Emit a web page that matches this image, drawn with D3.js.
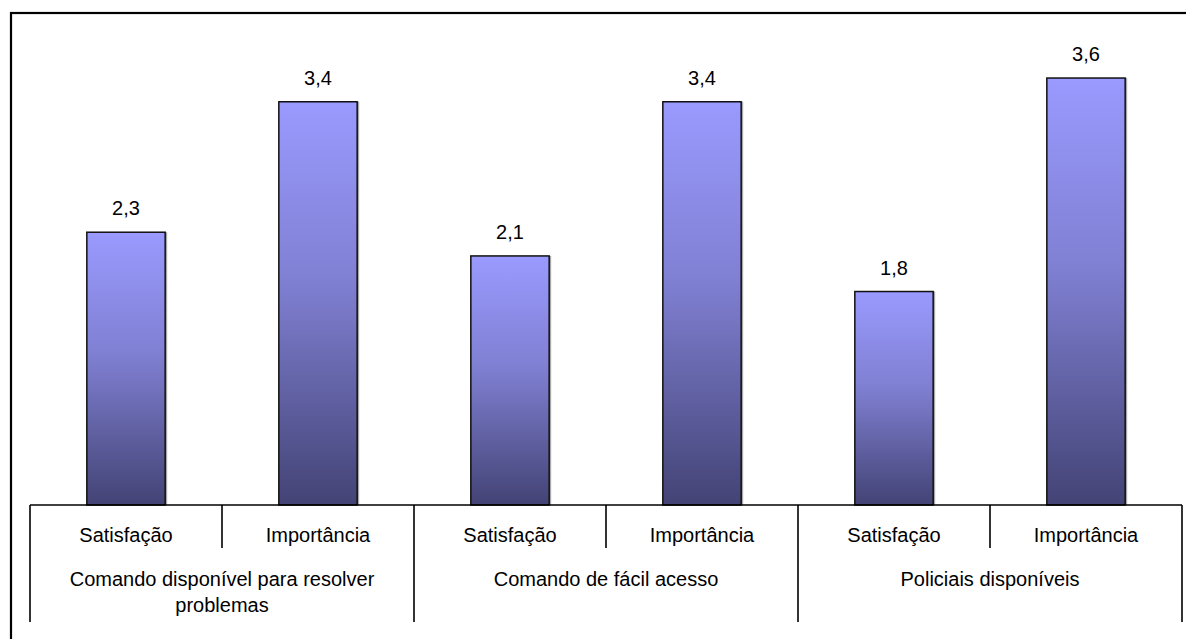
<!DOCTYPE html>
<html>
<head>
<meta charset="utf-8">
<script src="https://cdn.jsdelivr.net/npm/d3@7"></script>
<style>
  html, body { margin: 0; padding: 0; background: #fff; }
  svg { display: block; font-family: "Liberation Sans", Arial, sans-serif; }
</style>
</head>
<body>
<svg id="chart" width="1186" height="639"></svg>
<script>
// Survey results: satisfaction vs. importance for three police service items
const groups = ["Comando disponível para resolver problemas", "Comando de fácil acesso", "Policiais disponíveis"];
const series = ["Satisfação", "Importância"];
const satisfacao = [2.3, 2.1, 1.8];
const importancia = [3.4, 3.4, 3.6];
const yDomain = [0, 4];

const W = 1186, H = 639;
const plot = { left: 30, right: 1182, base: 505, top: 30.6 };
const fontSize = "20px";

const svg = d3.select("#chart");

// Outer frame (extends past the right and bottom edges)
svg.append("rect")
  .attr("x", 11).attr("y", 13)
  .attr("width", W + 20).attr("height", H + 20)
  .attr("fill", "none").attr("stroke", "#000").attr("stroke-width", 2.2);

const rows = [];
groups.forEach((g, gi) => {
  rows.push({ group: g, series: series[0], value: satisfacao[gi] });
  rows.push({ group: g, series: series[1], value: importancia[gi] });
});

const x0 = d3.scaleBand().domain(groups).range([plot.left, plot.right]);
const x1 = d3.scaleBand().domain(series).range([0, x0.bandwidth()]);
const y = d3.scaleLinear().domain(yDomain).range([plot.base, plot.top]);
const barW = x1.bandwidth() * 0.408;

const fmt = v => d3.format(".1f")(v).replace(".", ",");

// Vertical gradient applied per bar
const defs = svg.append("defs");
const grad = defs.append("linearGradient")
  .attr("id", "barGrad").attr("x1", 0).attr("y1", 0).attr("x2", 0).attr("y2", 1);
grad.append("stop").attr("offset", "0%").attr("stop-color", "#9a9aff");
grad.append("stop").attr("offset", "45%").attr("stop-color", "#7f7fd2");
grad.append("stop").attr("offset", "100%").attr("stop-color", "#434375");

const cx = d => x0(d.group) + x1(d.series) + x1.bandwidth() / 2;

const bars = svg.append("g").selectAll("g").data(rows).join("g");

// light shadow on the right edge
bars.append("rect")
  .attr("x", d => cx(d) - barW / 2 + 2)
  .attr("y", d => y(d.value))
  .attr("width", barW)
  .attr("height", d => plot.base - y(d.value))
  .attr("fill", "#a8a8a8");

bars.append("rect")
  .attr("x", d => cx(d) - barW / 2)
  .attr("y", d => y(d.value))
  .attr("width", barW)
  .attr("height", d => plot.base - y(d.value))
  .attr("fill", "url(#barGrad)")
  .attr("stroke", "#111")
  .attr("stroke-width", 1.5);

bars.append("text")
  .attr("x", d => cx(d))
  .attr("y", d => y(d.value) - 17)
  .attr("text-anchor", "middle")
  .attr("font-size", fontSize)
  .attr("fill", "#000")
  .text(d => fmt(d.value));

// Category axis with two label levels
const axis = svg.append("g").attr("stroke", "#000").attr("stroke-width", 1.6);
axis.append("line")
  .attr("x1", plot.left).attr("x2", plot.right)
  .attr("y1", plot.base).attr("y2", plot.base);

const groupEdges = [plot.left].concat(groups.map(g => x0(g) + x0.bandwidth()));
axis.selectAll("line.gsep").data(groupEdges).join("line")
  .attr("class", "gsep")
  .attr("x1", d => d).attr("x2", d => d)
  .attr("y1", plot.base).attr("y2", 622);

axis.selectAll("line.ssep").data(groups).join("line")
  .attr("class", "ssep")
  .attr("x1", g => x0(g) + x1(series[1])).attr("x2", g => x0(g) + x1(series[1]))
  .attr("y1", plot.base).attr("y2", 548);

svg.append("g").selectAll("text").data(rows).join("text")
  .attr("x", d => cx(d))
  .attr("y", 542)
  .attr("text-anchor", "middle")
  .attr("font-size", fontSize)
  .attr("fill", "#000")
  .text(d => d.series);

function wrap(textSel, width, lineHeight) {
  textSel.each(function () {
    const t = d3.select(this);
    const words = t.text().split(/\s+/);
    const xPos = t.attr("x");
    t.text(null);
    let line = [];
    let tspan = t.append("tspan").attr("x", xPos).attr("dy", 0);
    words.forEach(w => {
      line.push(w);
      tspan.text(line.join(" "));
      if (tspan.node().getComputedTextLength() > width && line.length > 1) {
        line.pop();
        tspan.text(line.join(" "));
        line = [w];
        tspan = t.append("tspan").attr("x", xPos).attr("dy", lineHeight).text(w);
      }
    });
  });
}

svg.append("g").selectAll("text").data(groups).join("text")
  .attr("x", g => x0(g) + x0.bandwidth() / 2)
  .attr("y", 586)
  .attr("text-anchor", "middle")
  .attr("font-size", fontSize)
  .attr("fill", "#000")
  .text(g => g)
  .call(wrap, x0.bandwidth() - 40, 26);
</script>
</body>
</html>
